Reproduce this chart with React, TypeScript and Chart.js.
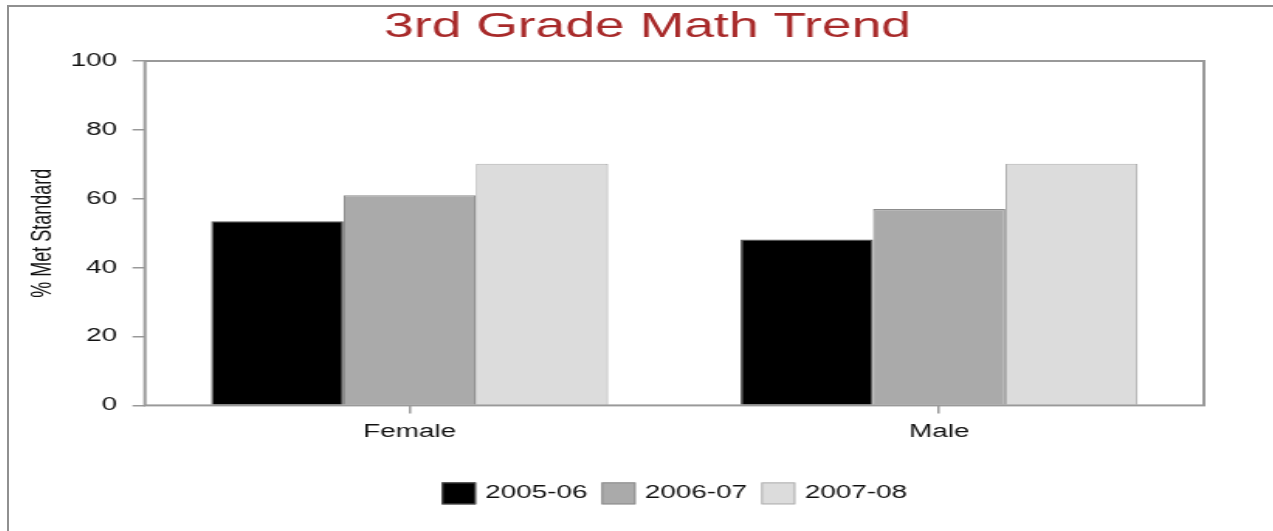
import React, { useEffect, useRef } from 'react';
import { Chart, registerables } from 'chart.js';

Chart.register(...registerables);

// ---- data ----
const categories = ['Female', 'Male'];
const seriesLabels = ['2005-06', '2006-07', '2007-08'];
const values0506 = [53.5, 48.2];
const values0607 = [61, 57];
const values0708 = [70.2, 70.2];
const yTicks = [0, 20, 40, 60, 80, 100];
const titleText = '3rd Grade Math Trend';
const yTitle = '% Met Standard';

// ---- styles ----
const fills = ['#000000', '#aaaaaa', '#dcdcdc'];
const strokes = ['#555555', '#8c8c8c', '#b0b0b0'];
const FONT = '"Liberation Sans", Arial, sans-serif';
const SX = 1.55; // horizontal stretch of the reference picture
const CW = 824;
const CH = 524;

const framePlugin = {
  id: 'frame',
  afterDatasetsDraw(chart: any) {
    const { ctx, chartArea: a } = chart;
    ctx.save();
    ctx.strokeStyle = '#999999';
    ctx.lineWidth = 2;
    ctx.strokeRect(a.left, a.top, a.right - a.left, a.bottom - a.top);
    ctx.restore();
  },
};

const titlePlugin = {
  id: 'customTitle',
  afterDraw(chart: any) {
    const { ctx } = chart;
    ctx.save();
    ctx.font = `34.5px ${FONT}`;
    ctx.fillStyle = '#a82a2a';
    ctx.textAlign = 'center';
    ctx.textBaseline = 'alphabetic';
    ctx.fillText(titleText, chart.width / 2, 30);
    ctx.restore();
  },
};

const legendPlugin = {
  id: 'customLegend',
  afterDraw(chart: any) {
    const { ctx, chartArea: a } = chart;
    ctx.save();
    ctx.font = `18px ${FONT}`;
    const box = 22;
    const gapText = 6;
    const gapItem = 9;
    const items = chart.data.datasets.map((ds: any) => ({
      label: ds.label,
      fill: ds.backgroundColor,
      stroke: ds.borderColor,
      w: ctx.measureText(ds.label).width,
    }));
    const total =
      items.reduce((s: number, it: any) => s + box + gapText + it.w, 0) +
      gapItem * (items.length - 1);
    let x = (a.left + a.right) / 2 - total / 2;
    const cy = a.bottom + 88;
    items.forEach((it: any) => {
      ctx.fillStyle = it.fill;
      ctx.fillRect(x, cy - box / 2, box, box);
      ctx.strokeStyle = it.stroke;
      ctx.lineWidth = 1;
      ctx.strokeRect(x + 0.5, cy - box / 2 + 0.5, box - 1, box - 1);
      ctx.fillStyle = '#111111';
      ctx.textBaseline = 'middle';
      ctx.textAlign = 'left';
      ctx.fillText(it.label, x + box + gapText, cy);
      x += box + gapText + it.w + gapItem;
    });
    ctx.restore();
  },
};

export default function App() {
  const ref = useRef<HTMLCanvasElement | null>(null);

  useEffect(() => {
    if (!ref.current) return;
    const series = [values0506, values0607, values0708];
    const chart = new Chart(ref.current, {
      type: 'bar',
      data: {
        labels: categories,
        datasets: series.map((vals, i) => ({
          label: seriesLabels[i],
          data: vals,
          backgroundColor: fills[i],
          borderColor: strokes[i],
          borderWidth: 1.2,
          categoryPercentage: 0.75,
          barPercentage: 1.0,
        })),
      },
      options: {
        responsive: false,
        animation: false,
        devicePixelRatio: 1,
        layout: { padding: { left: 8, right: 53, top: 54, bottom: 80 } },
        plugins: {
          legend: { display: false },
          tooltip: { enabled: false },
          title: { display: false },
        },
        scales: {
          x: {
            grid: {
              offset: false,
              drawOnChartArea: false,
              drawTicks: true,
              tickLength: 8,
              color: '#999999',
              lineWidth: 1.5,
            },
            border: { display: false },
            ticks: {
              font: { family: FONT, size: 18 },
              color: '#111111',
              padding: 8,
            },
          },
          y: {
            min: 0,
            max: 100,
            afterBuildTicks: (scale: any) => {
              scale.ticks = yTicks.map((v) => ({ value: v }));
            },
            afterFit: (scale: any) => {
              scale.width = 79.7;
            },
            grid: {
              drawOnChartArea: false,
              drawTicks: true,
              tickLength: 8,
              color: '#999999',
              lineWidth: 1.5,
            },
            border: { display: false },
            ticks: {
              font: { family: FONT, size: 18 },
              color: '#111111',
              padding: 10,
            },
            title: {
              display: true,
              text: yTitle,
              color: '#111111',
              font: { family: FONT, size: 18 },
              padding: { top: 3, bottom: 0 },
            },
          },
        },
      },
      plugins: [framePlugin, titlePlugin, legendPlugin],
    });
    return () => chart.destroy();
  }, []);

  return (
    <div
      style={{
        position: 'fixed',
        left: 0,
        top: 0,
        width: '100vw',
        height: '100vh',
        overflow: 'hidden',
        background: '#ffffff',
      }}
    >
      <div
        style={{
          position: 'absolute',
          left: 7,
          top: 5,
          width: 1400,
          height: 700,
          borderLeft: '2px solid #909090',
          borderTop: '2px solid #909090',
          background: '#ffffff',
        }}
      >
        <canvas
          ref={ref}
          width={CW}
          height={CH}
          style={{ width: `${Math.round(CW * SX)}px`, height: `${CH}px`, display: 'block' }}
        />
      </div>
    </div>
  );
}
